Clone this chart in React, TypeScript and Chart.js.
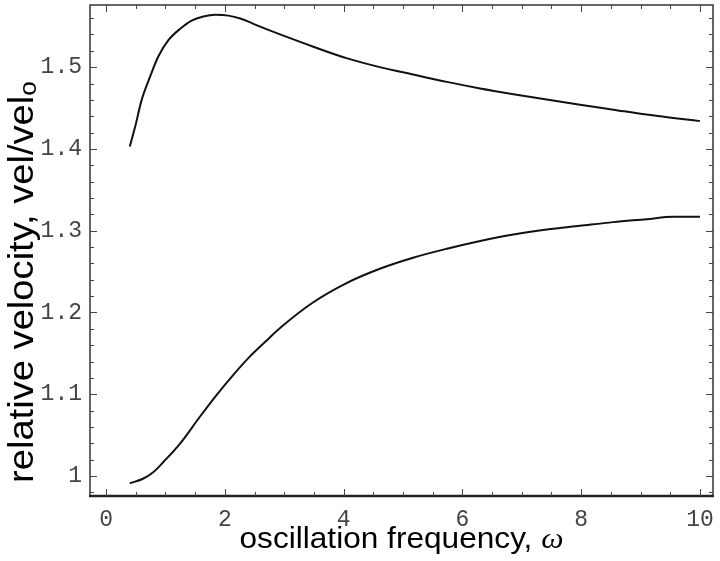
import React, { useEffect, useRef } from "react";
import { Chart, registerables } from "chart.js";

Chart.register(...registerables);

// Upper curve (omega, relative velocity)
const UPPER_X = [0.40, 0.49, 0.60, 0.74, 0.88, 1.05, 1.25, 1.44, 1.64, 1.84, 2.06, 2.26, 2.48, 2.70, 2.93, 3.49, 4.05, 4.61, 5.17, 5.74, 6.30, 6.86, 7.42, 7.98, 8.54, 9.10, 9.66, 10.0];
const UPPER_Y = [1.403, 1.427, 1.460, 1.488, 1.513, 1.533, 1.547, 1.557, 1.562, 1.564, 1.563, 1.5595, 1.553, 1.5465, 1.540, 1.525, 1.511, 1.500, 1.491, 1.482, 1.474, 1.467, 1.4605, 1.454, 1.448, 1.442, 1.437, 1.434];

// Lower curve
const LOWER_X = [0.40, 0.63, 0.80, 0.97, 1.25, 1.58, 1.86, 2.14, 2.42, 2.70, 2.93, 3.49, 4.05, 4.61, 5.17, 5.74, 6.30, 6.86, 7.42, 7.98, 8.54, 9.10, 9.55, 10.0];
const LOWER_Y = [0.991, 0.997, 1.005, 1.0175, 1.040, 1.0725, 1.099, 1.1235, 1.146, 1.1655, 1.181, 1.2125, 1.2360, 1.2535, 1.2670, 1.278, 1.2875, 1.2955, 1.3015, 1.306, 1.3105, 1.314, 1.3170, 1.317];

const X_TICKS = [0, 2, 4, 6, 8, 10];
const Y_TICKS = [1, 1.1, 1.2, 1.3, 1.4, 1.5];
const X_MINOR_STEP = 0.5;
const Y_MINOR_STEP = 0.02;

const X_TITLE = "oscillation frequency, ";
const X_TITLE_SYMBOL = "\u03C9";
const Y_TITLE = "relative velocity, vel/vel";
const Y_TITLE_SUB = "o";

const framePlugin = {
  id: "frameTicks",
  afterDatasetsDraw(chart: any) {
    const { ctx, chartArea, scales } = chart;
    const { left, right, top, bottom } = chartArea;
    const xs = scales.x;
    const ys = scales.y;
    ctx.save();
    ctx.strokeStyle = "#333";
    ctx.lineWidth = 1.5;
    ctx.strokeRect(left, top, right - left, bottom - top);
    ctx.lineWidth = 2.5;
    ctx.strokeStyle = "#222";
    ctx.beginPath();
    ctx.moveTo(left - 1, bottom);
    ctx.lineTo(right + 1, bottom);
    ctx.stroke();

    ctx.strokeStyle = "#444";
    ctx.lineWidth = 1;
    const isMajor = (v: number, arr: number[]) => arr.some((t) => Math.abs(t - v) < 1e-6);
    for (let i = Math.ceil(xs.min / X_MINOR_STEP); i * X_MINOR_STEP <= xs.max + 1e-9; i++) {
      const v = i * X_MINOR_STEP;
      const px = Math.round(xs.getPixelForValue(v)) + 0.5;
      const len = isMajor(v, X_TICKS) ? 7 : 4;
      ctx.beginPath();
      ctx.moveTo(px, bottom);
      ctx.lineTo(px, bottom - len);
      ctx.moveTo(px, top);
      ctx.lineTo(px, top + len);
      ctx.stroke();
    }
    for (let i = Math.ceil(ys.min / Y_MINOR_STEP); i * Y_MINOR_STEP <= ys.max + 1e-9; i++) {
      const v = i * Y_MINOR_STEP;
      const py = Math.round(ys.getPixelForValue(v)) + 0.5;
      const len = isMajor(v, Y_TICKS) ? 7 : 4;
      ctx.beginPath();
      ctx.moveTo(left, py);
      ctx.lineTo(left + len, py);
      ctx.moveTo(right, py);
      ctx.lineTo(right - len, py);
      ctx.stroke();
    }
    ctx.restore();
  },
  afterDraw(chart: any) {
    const { ctx, chartArea } = chart;
    const { left, right, bottom } = chartArea;
    ctx.save();
    ctx.fillStyle = "#000";
    ctx.textBaseline = "alphabetic";
    ctx.textAlign = "left";
    const sx = 1.09;
    ctx.font = '29px "Liberation Sans"';
    const w1 = ctx.measureText(X_TITLE).width;
    ctx.font = 'italic 29px "Liberation Serif"';
    const w2 = ctx.measureText(X_TITLE_SYMBOL).width;
    const total = (w1 + w2) * sx;
    const cx = (left + right) / 2;
    ctx.save();
    ctx.translate(cx - total / 2, bottom + 52);
    ctx.scale(sx, 1);
    ctx.font = '29px "Liberation Sans"';
    ctx.fillText(X_TITLE, 0, 0);
    ctx.font = 'italic 29px "Liberation Serif"';
    ctx.fillText(X_TITLE_SYMBOL, w1, 0);
    ctx.restore();

    ctx.save();
    ctx.translate(33, 483);
    ctx.rotate(-Math.PI / 2);
    ctx.scale(sx, 1);
    ctx.font = '35px "Liberation Sans"';
    ctx.fillText(Y_TITLE, 0, 0);
    const wy = ctx.measureText(Y_TITLE).width;
    ctx.font = '24px "Liberation Sans"';
    ctx.fillText(Y_TITLE_SUB, wy, 3);
    ctx.restore();
    ctx.restore();
  },
};

const zeroPad = (s: any) => {
  s.paddingTop = 0;
  s.paddingBottom = 0;
  s.paddingLeft = 0;
  s.paddingRight = 0;
};

export default function App() {
  const ref = useRef<HTMLCanvasElement>(null);
  useEffect(() => {
    const upper = UPPER_X.map((x, i) => ({ x, y: UPPER_Y[i] }));
    const lower = LOWER_X.map((x, i) => ({ x, y: LOWER_Y[i] }));
    const tickFont = { family: '"Liberation Mono", monospace', size: 23 };
    const chart = new Chart(ref.current!, {
      type: "line",
      data: {
        datasets: [
          { data: upper, borderColor: "#111", borderWidth: 2, pointRadius: 0, fill: false, cubicInterpolationMode: "monotone" },
          { data: lower, borderColor: "#111", borderWidth: 2, pointRadius: 0, fill: false, cubicInterpolationMode: "monotone" },
        ],
      },
      options: {
        animation: false,
        responsive: false,
        devicePixelRatio: 1,
        layout: { padding: { top: 5, right: 7, left: 0, bottom: 0 } },
        plugins: { legend: { display: false }, tooltip: { enabled: false } },
        scales: {
          x: {
            type: "linear",
            min: -0.27,
            max: 10.22,
            afterBuildTicks: (s: any) => {
              s.ticks = X_TICKS.map((v) => ({ value: v }));
            },
            afterFit: (s: any) => {
              s.height = 65;
              zeroPad(s);
            },
            grid: { display: false, drawTicks: false, tickLength: 0 },
            border: { display: false },
            ticks: {
              font: tickFont,
              color: "#444",
              padding: 10,
              maxRotation: 0,
              autoSkip: false,
              callback: (v: any) => String(v),
            },
          },
          y: {
            type: "linear",
            min: 0.9756,
            max: 1.576,
            afterBuildTicks: (s: any) => {
              s.ticks = Y_TICKS.map((v) => ({ value: v }));
            },
            afterFit: (s: any) => {
              s.width = 90;
              zeroPad(s);
            },
            grid: { display: false, drawTicks: false, tickLength: 0 },
            border: { display: false },
            ticks: {
              font: tickFont,
              color: "#444",
              padding: 8,
              autoSkip: false,
              callback: (v: any) => (Math.abs(v - 1) < 1e-9 ? "1" : Number(v).toFixed(1)),
            },
          },
        },
      },
      plugins: [framePlugin],
    } as any);
    return () => chart.destroy();
  }, []);
  return (
    <div style={{ position: "fixed", left: 0, top: 0, width: 720, height: 561, background: "#fff" }}>
      <canvas ref={ref} width={720} height={561} style={{ display: "block" }} />
    </div>
  );
}
